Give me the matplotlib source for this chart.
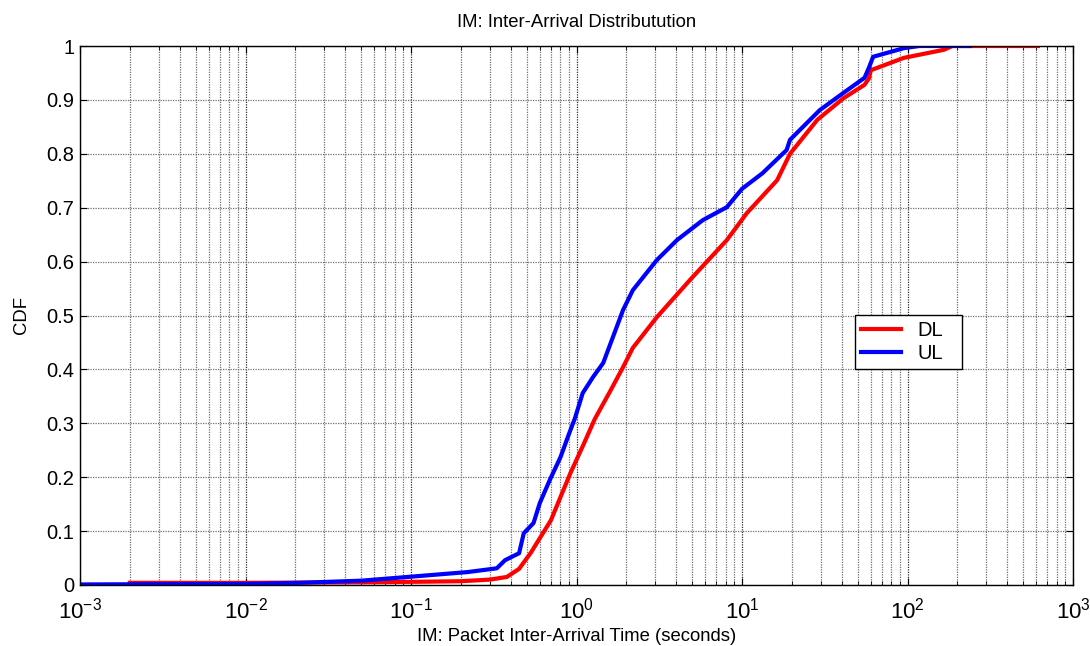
from matplotlib import pyplot as plt
from matplotlib.ticker import LogLocator, FixedLocator, FuncFormatter
import numpy as np

plt.rcParams['font.family'] = ['Liberation Sans', 'DejaVu Sans']
plt.rcParams['mathtext.fontset'] = 'custom'
plt.rcParams['mathtext.rm'] = 'Liberation Sans'

# DL (red) curve
dl_x = [0.002, 0.01, 0.05, 0.11, 0.2, 0.3, 0.38, 0.45, 0.53, 0.7, 0.92, 1.1, 1.29,
        1.6, 1.91, 2.19, 3.06, 4.85, 8.1, 10.7, 16.3, 19.5, 28.5, 41, 55, 58.5,
        60, 95, 166, 186, 614]
dl_y = [0.004, 0.004, 0.005, 0.006, 0.007, 0.01, 0.015, 0.03, 0.06, 0.12, 0.208,
        0.26, 0.308, 0.36, 0.404, 0.44, 0.497, 0.566, 0.64, 0.69, 0.751, 0.80,
        0.863, 0.903, 0.928, 0.94, 0.955, 0.978, 0.993, 1.0, 1.0]

# UL (blue) curve
ul_x = [0.001, 0.01, 0.021, 0.05, 0.096, 0.22, 0.33, 0.37, 0.45, 0.48, 0.55, 0.6,
        0.69, 0.8, 0.9, 0.98, 1.09, 1.26, 1.45, 1.66, 1.91, 2.19, 3.06, 4.05, 5.8,
        8.1, 10, 13.3, 18.6, 19.5, 29.5, 41, 55, 58.5, 62, 95, 118, 238]
ul_y = [0.001, 0.002, 0.004, 0.008, 0.015, 0.024, 0.031, 0.046, 0.059, 0.096, 0.115,
        0.152, 0.195, 0.237, 0.28, 0.31, 0.356, 0.386, 0.412, 0.46, 0.51, 0.547,
        0.603, 0.64, 0.677, 0.701, 0.735, 0.764, 0.807, 0.826, 0.881, 0.913,
        0.941, 0.96, 0.98, 0.996, 1.0, 1.0]

y_ticks = [0, 0.1, 0.2, 0.3, 0.4, 0.5, 0.6, 0.7, 0.8, 0.9, 1]

fig = plt.figure(figsize=(10.9, 6.46), dpi=100)
ax = fig.add_axes([80/1090, 61/646, 993/1090, 539/646])

ax.plot(dl_x, dl_y, color='#ff0000', lw=3, label='DL')
ax.plot(ul_x, ul_y, color='#0000ff', lw=3, label='UL')

ax.set_xscale('log')
ax.set_xlim(1e-3, 1e3)
ax.set_ylim(0, 1)
ax.xaxis.set_major_locator(LogLocator(base=10, numticks=10))
ax.xaxis.set_minor_locator(LogLocator(base=10, subs=np.arange(2, 10), numticks=20))
ax.yaxis.set_major_locator(FixedLocator(y_ticks))
ax.yaxis.set_major_formatter(FuncFormatter(lambda v, p: '%g' % v))

dots = (0, (1, 1))
ax.grid(True, which='major', axis='x', color='#303030', ls=dots, lw=0.9)
ax.grid(True, which='minor', axis='x', color='#707070', ls=dots, lw=0.9)
ax.grid(True, which='major', axis='y', color='#707070', ls=dots, lw=0.9)

ax.tick_params(which='both', direction='in', top=True, right=True)
ax.tick_params(which='major', length=5, width=0.8)
ax.tick_params(which='minor', length=3, width=0.6)
ax.tick_params(axis='y', labelsize=14.5, pad=4)
ax.tick_params(axis='x', labelsize=16, pad=9)
for s in ax.spines.values():
    s.set_linewidth(1.0)

ax.set_title('IM: Inter-Arrival Distributution', fontsize=13.3, pad=14)
ax.set_xlabel('IM: Packet Inter-Arrival Time (seconds)', fontsize=13.3, labelpad=3)
ax.set_ylabel('CDF', fontsize=13.3, labelpad=12)

leg = ax.legend(loc='lower left', bbox_to_anchor=(775/993, 216/539, 107/993, 56/539),
                mode='expand', fontsize=14.5, fancybox=False, framealpha=1,
                edgecolor='black', borderpad=0.3, handlelength=2.0,
                labelspacing=0.2, borderaxespad=0)
leg.get_frame().set_linewidth(1.0)

fig.savefig('out.png', dpi=100)
